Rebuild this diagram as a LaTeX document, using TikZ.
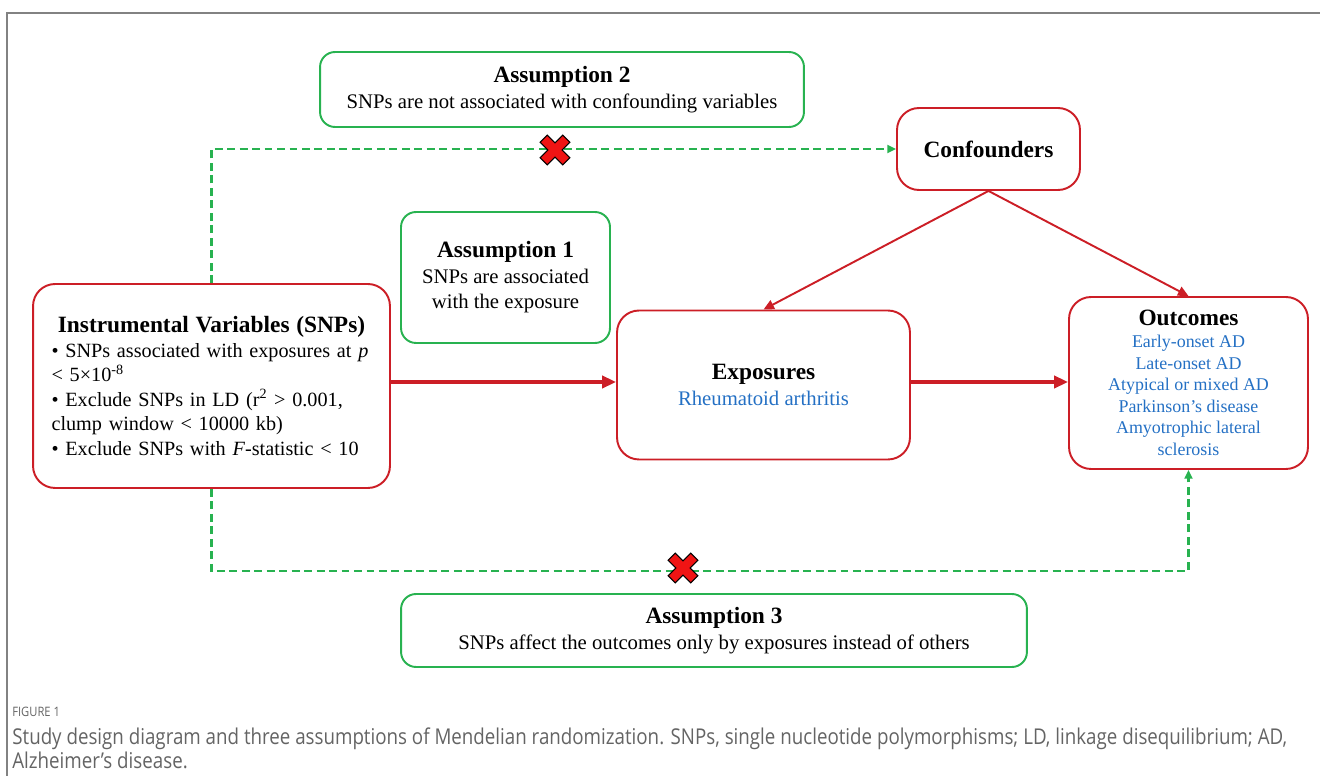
\documentclass[tikz,border=0pt]{standalone}
\usepackage{fontspec}
\setmainfont{Liberation Serif}
\newfontfamily\capfont[FakeStretch=0.86]{Open Sans}
\usepackage{xcolor}
\usetikzlibrary{arrows.meta}
\definecolor{boxred}{RGB}{204,30,38}
\definecolor{boxgreen}{RGB}{40,178,80}
\definecolor{textblue}{RGB}{36,112,196}
\definecolor{xred}{RGB}{240,20,20}
\definecolor{capgray}{RGB}{100,100,100}
\definecolor{framegray}{RGB}{130,130,130}
\setlength{\lineskiplimit}{-6pt}
\newcommand{\ttl}[1]{{\fontsize{13.3}{14.5}\selectfont\bfseries\color{black}#1}}
\tikzset{xmark/.pic={
\draw [black,line width=0.6pt,fill=xred,rotate=45] (5,5) -- (16,5) -- (16,-5) -- (5,-5) -- (5,-16) -- (-5,-16) -- (-5,-5) -- (-16,-5) -- (-16,5) -- (-5,5) -- (-5,16) -- (5,16) -- cycle;
}}

\begin{document}
\begin{tikzpicture}[x=0.02cm,y=-0.02cm]
\tikzstyle{every node}+=[inner sep=0pt]
\tikzstyle{redbox}=[draw=boxred,line width=1.1pt,rounded corners=0.44cm,align=center,font=\fontsize{11.8}{14.5}\selectfont]
\tikzstyle{greenbox}=[draw=boxgreen,line width=1.1pt,rounded corners=0.3cm,align=center,font=\fontsize{11.8}{14.5}\selectfont]
\tikzstyle{mainarrow}=[boxred,line width=1.8pt,-{Triangle[length=8pt,width=7pt]}]
\tikzstyle{confarrow}=[boxred,line width=1.1pt,-{Triangle[length=6pt,width=5.5pt]}]
\tikzstyle{dashline}=[boxgreen,line width=1.3pt,dash pattern=on 4.5pt off 2.6pt,-{Triangle[length=5pt,width=4.5pt]}]
\useasboundingbox (0,0) rectangle (1320,776);
\draw [framegray,line width=1pt] (7,776) -- (7,13) -- (1320,13);
\node [greenbox,minimum width=9.68cm,minimum height=1.5cm] (asm2) at (562,89.5) {\ttl{Assumption 2}\\SNPs are not associated with confounding variables};
\node [redbox,minimum width=3.66cm,minimum height=1.64cm] (conf) at (988.5,149) {\ttl{Confounders}};
\node [greenbox,minimum width=4.18cm,minimum height=2.62cm] (asm1) at (505.5,277.5) {\ttl{Assumption 1}\\SNPs are associated\\with the exposure};
\node [redbox,minimum width=7.14cm,minimum height=4.08cm,text width=6.4cm,align=left,font=\fontsize{11.5}{13.9}\selectfont] (iv) at (211.5,386) {{\centering\ttl{Instrumental Variables (SNPs)}\par}%
• SNPs associated with exposures at \textit{p}\\
< 5×10\textsuperscript{-8}\\
• Exclude SNPs in LD (r\textsuperscript{2} > 0.001,\\
clump window < 10000 kb)\\
• Exclude SNPs with \textit{F}-statistic < 10};
\node [redbox,minimum width=5.86cm,minimum height=2.98cm,text=textblue] (expo) at (763.5,385) {\ttl{Exposures}\\Rheumatoid arthritis};
\node [redbox,minimum width=4.78cm,minimum height=3.44cm,text=textblue,font=\fontsize{10.2}{12.3}\selectfont] (outc) at (1188.5,383) {\ttl{Outcomes}\\Early-onset AD\\Late-onset AD\\Atypical or mixed AD\\Parkinson’s disease\\Amyotrophic lateral\\sclerosis};
\node [greenbox,minimum width=12.52cm,minimum height=1.46cm] (asm3) at (714,630.5) {\ttl{Assumption 3}\\SNPs affect the outcomes only by exposures instead of others};
\draw [mainarrow] (iv.east |- 0,382) -- (expo.west |- 0,382);
\draw [mainarrow] (expo.east |- 0,382) -- (outc.west |- 0,382);
\draw [confarrow] (conf.south) -- (expo.north);
\draw [confarrow] (conf.south) -- (outc.north);
\draw [dashline] (iv.north) |- (conf.west);
\draw [dashline] (iv.south) -- ++(0,82) -| (outc.south);
\pic at (555,150) {xmark};
\pic at (683,568) {xmark};
\node [anchor=west,text=capgray,font=\capfont\fontsize{7.4}{9}\selectfont] (figlabel) at (12,712) {FIGURE 1};
\node [anchor=north west,text=capgray,align=left,font=\capfont\fontsize{12.4}{14}\selectfont] (caption) at (12,727) {Study design diagram and three assumptions of Mendelian randomization. SNPs, single nucleotide polymorphisms; LD, linkage disequilibrium; AD,\\Alzheimer’s disease.};
\end{tikzpicture}
\end{document}
